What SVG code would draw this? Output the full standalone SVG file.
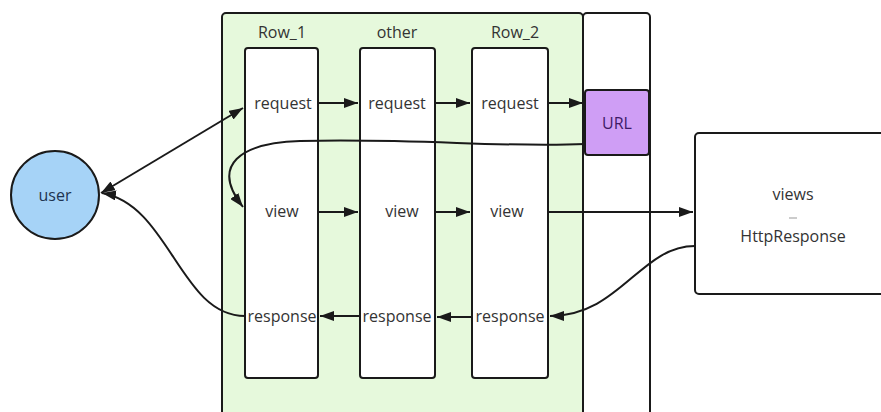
<svg xmlns="http://www.w3.org/2000/svg" width="881" height="412" viewBox="0 0 881 412">
<style>
  .t{font-family:"Open Sans","Noto Sans",sans-serif;font-size:16px;fill:#333;text-anchor:middle}
  .box{fill:#fff;stroke:#1a1a1a;stroke-width:2}
  .c{fill:none;stroke:#1a1a1a;stroke-width:2}
</style>
<defs>
  <marker id="ah" viewBox="0 0 14 10" refX="14" refY="5" markerWidth="14" markerHeight="10" markerUnits="userSpaceOnUse" orient="auto-start-reverse">
    <path d="M0,0 L14,5 L0,10 z" fill="#1a1a1a"/>
  </marker>
</defs>
<rect width="881" height="412" fill="#fff"/>
<g id="container">
  <rect x="222" y="13" width="361" height="410" rx="4" fill="#e6f9dc" stroke="#1a1a1a" stroke-width="2"/>
  <rect x="583" y="13" width="67" height="410" rx="4" class="box"/>
</g>
<g id="row1">
  <rect x="245" y="48" width="73" height="330" rx="3" class="box"/>
  <text class="t" x="282" y="38">Row_1</text>
  <text class="t" x="283" y="109">request</text>
  <text class="t" x="282" y="217">view</text>
  <text class="t" x="282" y="322">response</text>
</g>
<g id="other">
  <rect x="360" y="48" width="75" height="330" rx="3" class="box"/>
  <text class="t" x="397" y="38">other</text>
  <text class="t" x="397" y="109">request</text>
  <text class="t" x="402" y="217">view</text>
  <text class="t" x="397" y="322">response</text>
</g>
<g id="row2">
  <rect x="472" y="48" width="76" height="330" rx="3" class="box"/>
  <text class="t" x="515" y="38">Row_2</text>
  <text class="t" x="510" y="109">request</text>
  <text class="t" x="507" y="217">view</text>
  <text class="t" x="510" y="322">response</text>
</g>
<g id="url">
  <rect x="585" y="90" width="64" height="65" rx="3" fill="#cf9ef5" stroke="#1a1a1a" stroke-width="2"/>
  <text class="t" x="617" y="129" style="fill:#3d1a66">URL</text>
</g>
<g id="user">
  <circle cx="55" cy="195" r="44" fill="#a6d3f7" stroke="#1a1a1a" stroke-width="2"/>
  <text class="t" x="55" y="201" style="fill:#1e3350">user</text>
</g>
<g id="views">
  <rect x="695" y="133" width="195" height="161" rx="4" class="box"/>
  <text class="t" x="793" y="200">views</text>
  <line x1="789" y1="218" x2="797" y2="218" stroke="#999" stroke-width="1"/>
  <text class="t" x="793" y="242">HttpResponse</text>
</g>
<g id="connectors">
  <path class="c" d="M101,193 L243,108" marker-start="url(#ah)" marker-end="url(#ah)"/>
  <path class="c" d="M318,103 L358,103" marker-end="url(#ah)"/>
  <path class="c" d="M435,103 L470,103" marker-end="url(#ah)"/>
  <path class="c" d="M548,103 L583,103" marker-end="url(#ah)"/>
  <path class="c" d="M585,144 C500,148 420,138 300,141 C240,143 210,165 243,207" marker-end="url(#ah)"/>
  <path class="c" d="M318,212 L358,212" marker-end="url(#ah)"/>
  <path class="c" d="M435,212 L470,212" marker-end="url(#ah)"/>
  <path class="c" d="M548,212 L693,212" marker-end="url(#ah)"/>
  <path class="c" d="M695,246 C640,246 620,316 550,316" marker-end="url(#ah)"/>
  <path class="c" d="M472,317 L437,317" marker-end="url(#ah)"/>
  <path class="c" d="M360,316 L320,316" marker-end="url(#ah)"/>
  <path class="c" d="M245,316 C180,316 170,205 102,193" marker-end="url(#ah)"/>
</g>
</svg>
